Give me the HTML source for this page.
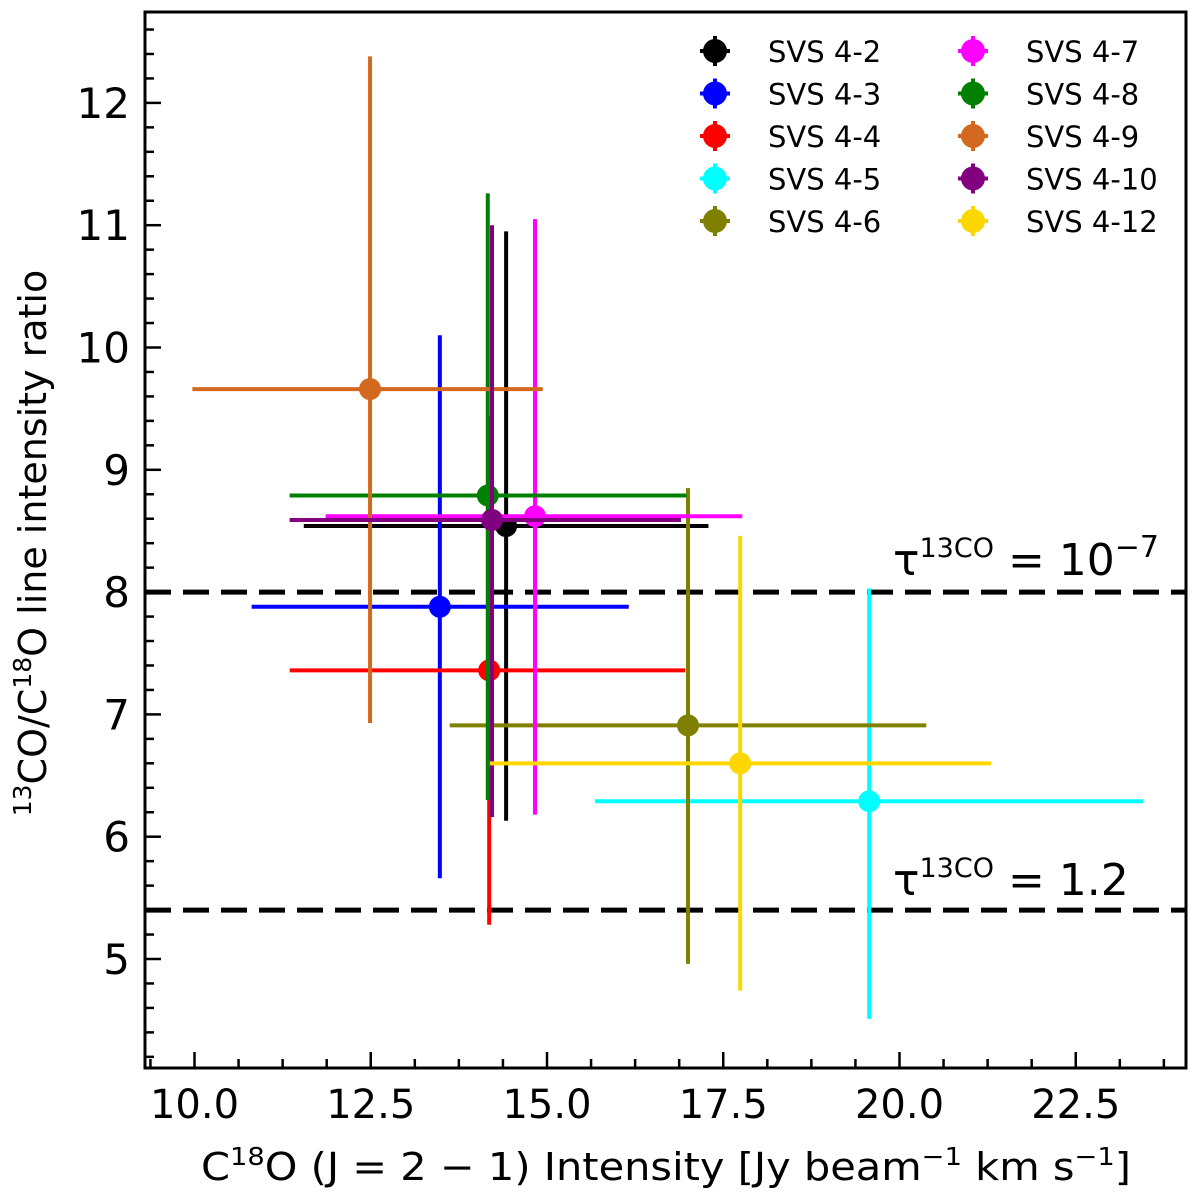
<!DOCTYPE html>
<html><head><meta charset="utf-8"><style>
body{margin:0;background:#fff}
svg text{font-family:"DejaVu Sans","Liberation Sans",sans-serif;fill:#000}
</style></head><body>
<svg id="chart" width="1200" height="1198" viewBox="0 0 1200 1198" xmlns="http://www.w3.org/2000/svg"></svg>
<script>
const names=["SVS 4-2","SVS 4-3","SVS 4-4","SVS 4-5","SVS 4-6","SVS 4-7","SVS 4-8","SVS 4-9","SVS 4-10","SVS 4-12"];
const colors=["#000000","#0000ff","#ff0000","#00ffff","#808000","#ff00ff","#008000","#d2691e","#800080","#ffd700"];
const xVals=[14.42,13.48,14.18,19.57,17.0,14.83,14.16,12.49,14.22,17.74];
const xLo=[11.55,10.81,11.35,15.68,13.62,11.86,11.35,9.97,11.35,14.19];
const xHi=[17.29,16.16,16.96,23.46,20.38,17.77,16.98,14.94,16.9,21.3];
const yVals=[8.54,7.88,7.36,6.29,6.91,8.62,8.79,9.66,8.59,6.60];
const yLo=[6.13,5.66,5.28,4.51,4.96,6.18,6.3,6.93,6.16,4.74];
const yHi=[10.95,10.10,9.44,8.03,8.85,11.05,11.26,12.38,11.0,8.46];
const xTicks=[10.0,12.5,15.0,17.5,20.0,22.5];
const yTicks=[5,6,7,8,9,10,11,12];
const refLines=[8.0,5.4];

const L=145,R=1186,T=12,B=1068;
const X=v=>194.5+(v-10)*70.5;
const Y=v=>959-(v-5)*122.3;
const svg=document.getElementById('chart');
const NS='http://www.w3.org/2000/svg';
function mk(tag,attrs,parent){const e=document.createElementNS(NS,tag);for(const k in attrs)e.setAttribute(k,attrs[k]);(parent||svg).appendChild(e);return e;}

refLines.forEach((v,i)=>{
 const l=mk('line',{x1:L,x2:R,y1:Y(v),y2:Y(v),stroke:'#000','stroke-width':5,'stroke-dasharray':'26,12'});
 
 
});
names.forEach((n,i)=>{
 const g=mk('g',{});
 
 
 mk('line',{x1:X(xLo[i]),x2:X(xHi[i]),y1:Y(yVals[i]),y2:Y(yVals[i]),stroke:colors[i],'stroke-width':4},g);
 mk('line',{x1:X(xVals[i]),x2:X(xVals[i]),y1:Y(yLo[i]),y2:Y(yHi[i]),stroke:colors[i],'stroke-width':4},g);
 mk('circle',{cx:X(xVals[i]),cy:Y(yVals[i]),r:11,fill:colors[i]},g);
});
const a1=mk('text',{x:893,y:575,'font-size':44});
a1.innerHTML='τ<tspan font-size="27" dy="-18">13</tspan><tspan font-size="27">CO</tspan><tspan dy="18"> = 10</tspan><tspan font-size="30" dy="-18">−7</tspan>';


const a2=mk('text',{x:893,y:895,'font-size':44});
a2.innerHTML='τ<tspan font-size="27" dy="-18">13</tspan><tspan font-size="27">CO</tspan><tspan dy="18"> = 1.2</tspan>';


const box=mk('rect',{x:L,y:T,width:R-L,height:B-T,fill:'none',stroke:'#000','stroke-width':3});


for(let v=9.375;v<=24.2;v+=0.625){const x=X(v);if(x<L||x>R)continue;const major=Math.abs(v/2.5-Math.round(v/2.5))<1e-6;mk('line',{x1:x,x2:x,y1:B,y2:B-(major?16:9),stroke:'#000','stroke-width':2.5});}
xTicks.forEach(v=>{const t=mk('text',{x:X(v),y:1118,'font-size':40,'text-anchor':'middle'});t.textContent=v.toFixed(1);
 });
for(let v=4.2;v<=12.8;v+=0.2){const y=Y(v);if(y<T||y>B)continue;const major=Math.abs(v-Math.round(v))<1e-6;mk('line',{x1:L,x2:L+(major?16:9),y1:y,y2:y,stroke:'#000','stroke-width':2.5});}
yTicks.forEach(v=>{const t=mk('text',{x:130,y:Y(v)+15,'font-size':42,'text-anchor':'end'});t.textContent=v;
 });
const xt=mk('text',{x:666,y:1180,'font-size':38,'text-anchor':'middle',textLength:930,lengthAdjust:'spacingAndGlyphs'});
xt.innerHTML='C<tspan font-size="25" dy="-15">18</tspan><tspan dy="15">O (J = 2 − 1) Intensity [Jy beam</tspan><tspan font-size="25" dy="-15">−1</tspan><tspan dy="15"> km s</tspan><tspan font-size="25" dy="-15">−1</tspan><tspan dy="15">]</tspan>';

const yt=mk('text',{x:0,y:0,'font-size':38,'text-anchor':'middle',transform:'translate(46,543) rotate(-90)'});
yt.innerHTML='<tspan font-size="25" dy="-15">13</tspan><tspan dy="15">CO/C</tspan><tspan font-size="25" dy="-15">18</tspan><tspan dy="15">O line intensity ratio</tspan>';

const lg=mk('g',{});

names.forEach((n,i)=>{
 const col=Math.floor(i/5),row=i%5;
 const mx=col?973:715,ty=51+row*42.5;
 const e=mk('g',{},lg);
 
 mk('line',{x1:mx-15,x2:mx+15,y1:ty,y2:ty,stroke:colors[i],'stroke-width':4},e);
 mk('line',{x1:mx,x2:mx,y1:ty-15,y2:ty+15,stroke:colors[i],'stroke-width':4},e);
 mk('circle',{cx:mx,cy:ty,r:12,fill:colors[i]},e);
 const t=mk('text',{x:mx+53,y:ty+11,'font-size':29},e);t.textContent=n;
});
</script>
</body></html>
